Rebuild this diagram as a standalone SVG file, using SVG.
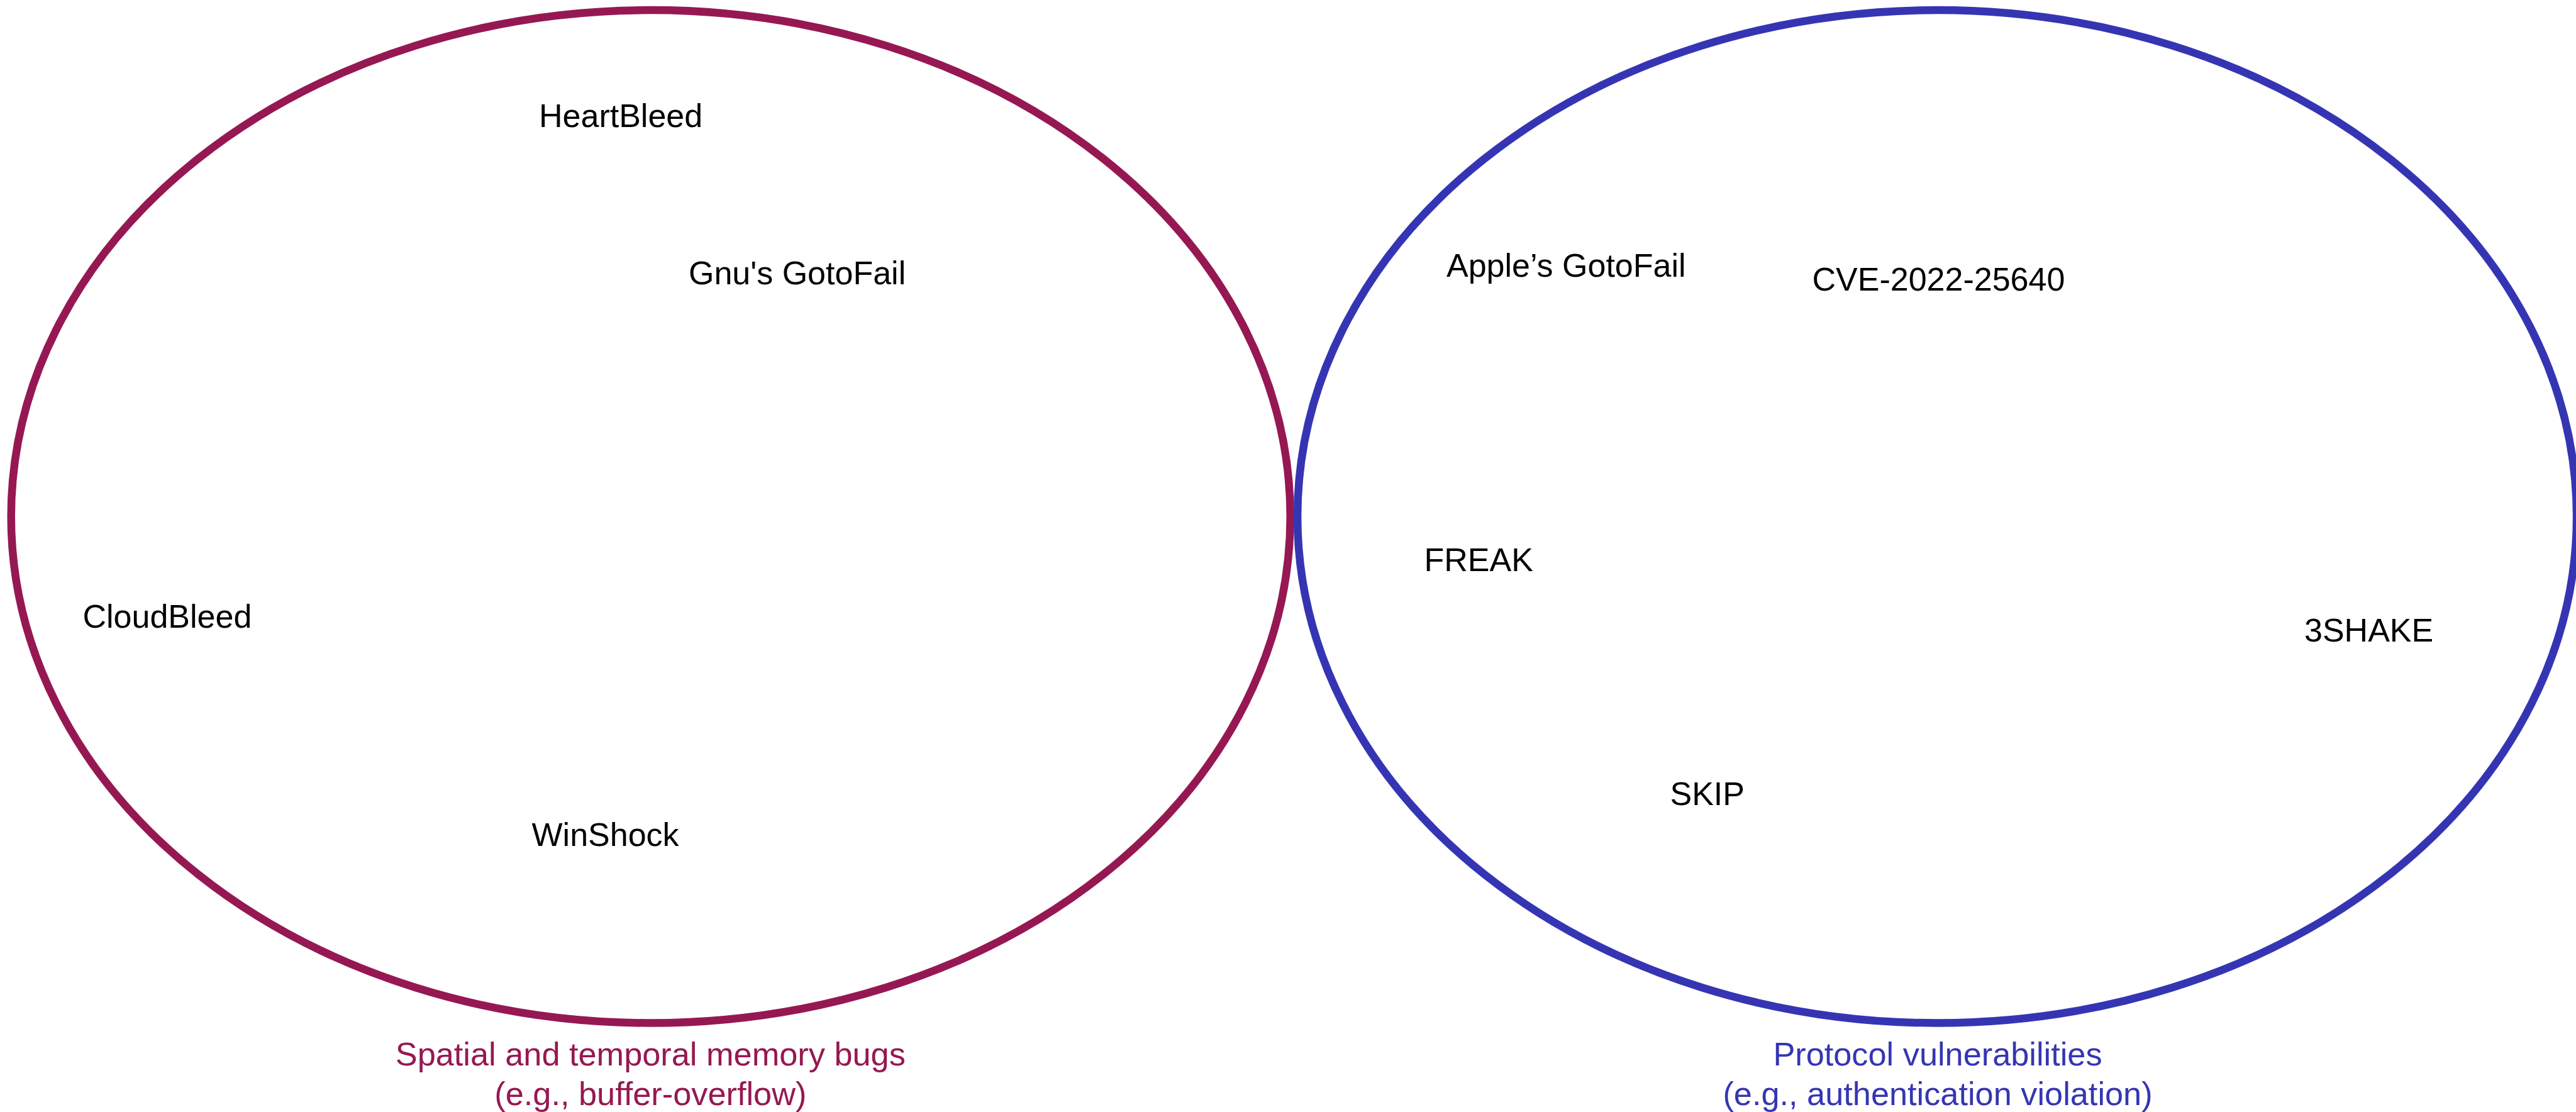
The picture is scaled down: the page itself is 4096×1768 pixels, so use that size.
<svg xmlns="http://www.w3.org/2000/svg" width="4096" height="1768" viewBox="0 0 4096 1768">
  <style>
    .set { fill: none; stroke-width: 12.5; }
    .memory { stroke: #961852; }
    .protocol { stroke: #3535B4; }
    .item { font-family: "Liberation Sans", Arial, Helvetica, sans-serif; font-size: 52px; fill: #000000; }
    .caption { font-family: "Liberation Sans", Arial, Helvetica, sans-serif; font-size: 52.3px; text-anchor: middle; }
    .caption.memory { fill: #961852; stroke: none; }
    .caption.protocol { fill: #3535B4; stroke: none; }
  </style>
  <rect width="4096" height="1768" fill="#ffffff"/>

  <!-- Set outlines -->
  <g id="set-memory">
    <ellipse class="set memory" cx="1034.7" cy="821.3" rx="1017" ry="805.2"/>
    <text class="caption memory" x="1034.3" y="1693.8">Spatial and temporal memory bugs</text>
    <text class="caption memory" x="1034.3" y="1756.7">(e.g., buffer-overflow)</text>
  </g>
  <g id="set-protocol">
    <ellipse class="set protocol" cx="3080.1" cy="821.3" rx="1017" ry="805.2"/>
    <text class="caption protocol" x="3081" y="1693.8">Protocol vulnerabilities</text>
    <text class="caption protocol" x="3081" y="1756.7">(e.g., authentication violation)</text>
  </g>

  <!-- Memory-safety vulnerabilities -->
  <g id="heartbleed"><text class="item" x="857" y="202.4">HeartBleed</text></g>
  <g id="gnu-gotofail"><text class="item" x="1095" y="451.6">Gnu's GotoFail</text></g>
  <g id="cloudbleed"><text class="item" x="131.5" y="998.3">CloudBleed</text></g>
  <g id="winshock"><text class="item" x="845.5" y="1345.3">WinShock</text></g>

  <!-- Protocol vulnerabilities -->
  <g id="apple-gotofail"><text class="item" x="2300" y="439.5">Apple’s GotoFail</text></g>
  <g id="cve-2022-25640"><text class="item" x="2881.5" y="461.5">CVE-2022-25640</text></g>
  <g id="freak"><text class="item" x="2264.5" y="908">FREAK</text></g>
  <g id="threeshake"><text class="item" x="3664" y="1019.7">3SHAKE</text></g>
  <g id="skip"><text class="item" x="2655.5" y="1279.7">SKIP</text></g>

  <!-- No connectors in this diagram -->
  <g id="connectors"/>
</svg>
